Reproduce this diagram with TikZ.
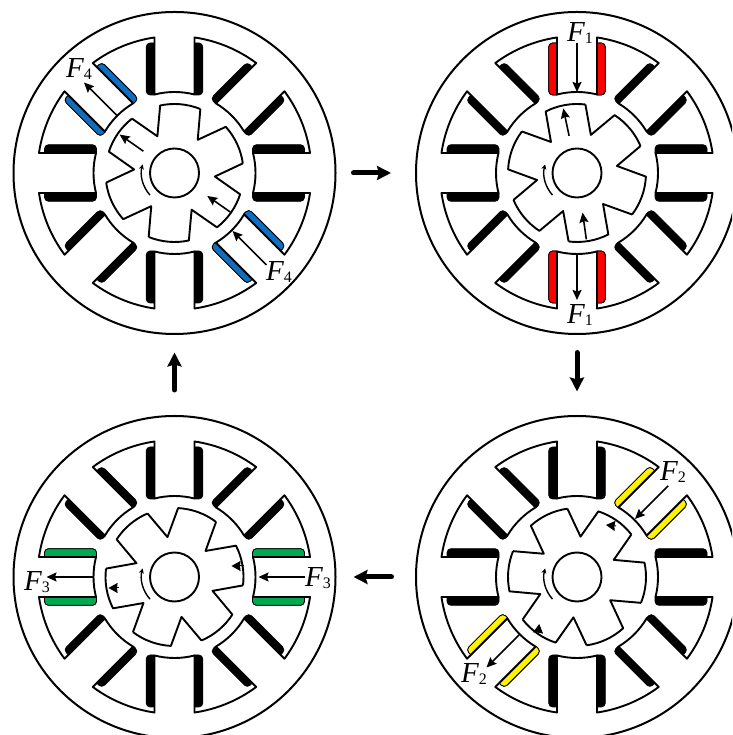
\documentclass[tikz,border=0pt]{standalone}
\usepackage{fontspec}
\setmainfont{Liberation Serif}
\usetikzlibrary{arrows.meta}

\definecolor{coilblue}{HTML}{0F6FBE}
\definecolor{coilgreen}{HTML}{00A84F}
\definecolor{coilyellow}{HTML}{FFF200}

\newcommand{\flab}[1]{{\fontsize{29}{29}\selectfont\itshape F}\raisebox{-0.4ex}{\fontsize{16}{16}\selectfont #1}}

\newcommand{\coils}[2]{
	\pgfmathsetmacro{\cw}{mod(#2,90)==0 ? 28.3 : 27}
	\begin{scope}[rotate=#2]
		\draw[coil, fill=#1] (78,20) [rounded corners=4pt] -- (78,\cw) -- (130,\cw) [sharp corners] -- (130,20) -- cycle;
		\draw[coil, fill=#1] (78,-20) [rounded corners=4pt] -- (78,-\cw) -- (130,-\cw) [sharp corners] -- (130,-20) -- cycle;
	\end{scope}
}

\newcommand{\motor}[4]{
	\begin{scope}[shift={(#1.center)}]
		\foreach \a in {0,45,...,315} {\coils{black}{\a}}
		\coils{#3}{#4}
		\coils{#3}{#4+180}
		\draw[iron] \foreach \a in {0,45,...,315} {
			(\a-14.3:81) arc[start angle=\a-14.3, end angle=\a+14.3, radius=81]
			-- (\a+8.4:137) arc[start angle=\a+8.4, end angle=\a+36.6, radius=137]
			-- (\a+30.7:81)
		};
		\draw[iron] \foreach \a in {0,60,...,300} {
			(#2+\a-17:69) arc[start angle=#2+\a-17, end angle=#2+\a+17, radius=69]
			-- (#2+\a+30:40.5) -- (#2+\a+43:69)
		};
		\draw[iron] (0,0) circle[radius=24.5];
		\draw[spin] (222:33) arc[start angle=222, end angle=165, radius=33];
	\end{scope}
}

\newcommand{\force}[3]{
	\path (#1.center) ++#2 coordinate (fs) (#1.center) ++#3 coordinate (fe);
	\draw[push] (fs) -- (fe);
}

\newcommand{\stub}[3]{
	\path (#1.center) ++#2 coordinate (fs) (#1.center) ++#3 coordinate (fe);
	\draw[nudge] (fs) -- (fe);
}

\begin{document}
\begin{tikzpicture}[x=1pt, y=1pt, node distance=402.5pt, line join=round]
	\tikzstyle{frame}=[draw=black, circle, line width=2pt, inner sep=0pt, minimum size=322pt]
	\tikzstyle{iron}=[draw=black, line width=1.9pt]
	\tikzstyle{coil}=[draw=black, line width=0.8pt]
	\tikzstyle{spin}=[draw=black, line width=1.4pt, -{Stealth[length=5pt, width=5pt]}]
	\tikzstyle{push}=[draw=black, line width=1.6pt, -{Stealth[length=10pt, width=9pt, inset=1.5pt]}]
	\tikzstyle{nudge}=[draw=black, line width=1pt, -{Stealth[length=9pt, width=10pt, inset=0.5pt]}]
	\tikzstyle{flow}=[draw=black, line width=5pt, line cap=round, -{Stealth[length=14pt, width=14pt, inset=2pt]}]
	\tikzstyle{flabel}=[inner sep=0pt]
	\clip (0,0) rectangle (732,735);

	\node[frame] (ma) at (174.5,562) {};
	\node[frame] (mb) [right of=ma] {};
	\node[frame] (mc) [below of=ma, node distance=404pt] {};
	\node[frame] (md) [below of=mb, node distance=404pt] {};

	\motor{ma}{85}{coilblue}{135}
	\motor{mb}{100}{red}{90}
	\motor{md}{115}{coilyellow}{45}
	\motor{mc}{130}{coilgreen}{0}

	% forces on each pole pair
	\force{ma}{(135:81)}{(135:128)}
	\force{ma}{(-45:130)}{(-45:82)}
	\force{ma}{(145:38)}{(145:67)}
	\force{ma}{(-35:68)}{(-35:40)}
	\force{mb}{(90:130)}{(90:81)}
	\force{mb}{(-90:81)}{(-90:127)}
	\force{mb}{(102:38)}{(102:66)}
	\force{mb}{(278:67)}{(278:40)}
	\force{md}{(45:129)}{(45:82)}
	\force{md}{(225:82)}{(225:128)}
	\stub{md}{(39,51)}{(29,52)}
	\stub{md}{(-39,-56)}{(-37.7,-47)}
	\force{mc}{(0:130)}{(0:84)}
	\force{mc}{(180:82)}{(180:128)}
	\stub{mc}{(69,11)}{(57,11)}
	\stub{mc}{(-56,-11)}{(-66,-11)}

	\node[flabel] (f4a) at (79,666) {\flab{4}};
	\node[flabel] (f4b) at (279,463) {\flab{4}};
	\node[flabel] (f1a) at (580,702) {\flab{1}};
	\node[flabel] (f1b) at (580,420) {\flab{1}};
	\node[flabel] (f2a) at (673,263) {\flab{2}};
	\node[flabel] (f2b) at (474,61) {\flab{2}};
	\node[flabel] (f3a) at (37,153) {\flab{3}};
	\node[flabel] (f3b) at (318,157) {\flab{3}};

	\draw[flow, shorten <=17pt, shorten >=24pt] (ma) -- (mb);
	\draw[flow, shorten <=17.5pt, shorten >=23.5pt] (mb) -- (md);
	\draw[flow, shorten <=23.5pt, shorten >=17pt] (md) -- (mc);
	\draw[flow, shorten <=25pt, shorten >=17.5pt] (mc) -- (ma);
\end{tikzpicture}
\end{document}
